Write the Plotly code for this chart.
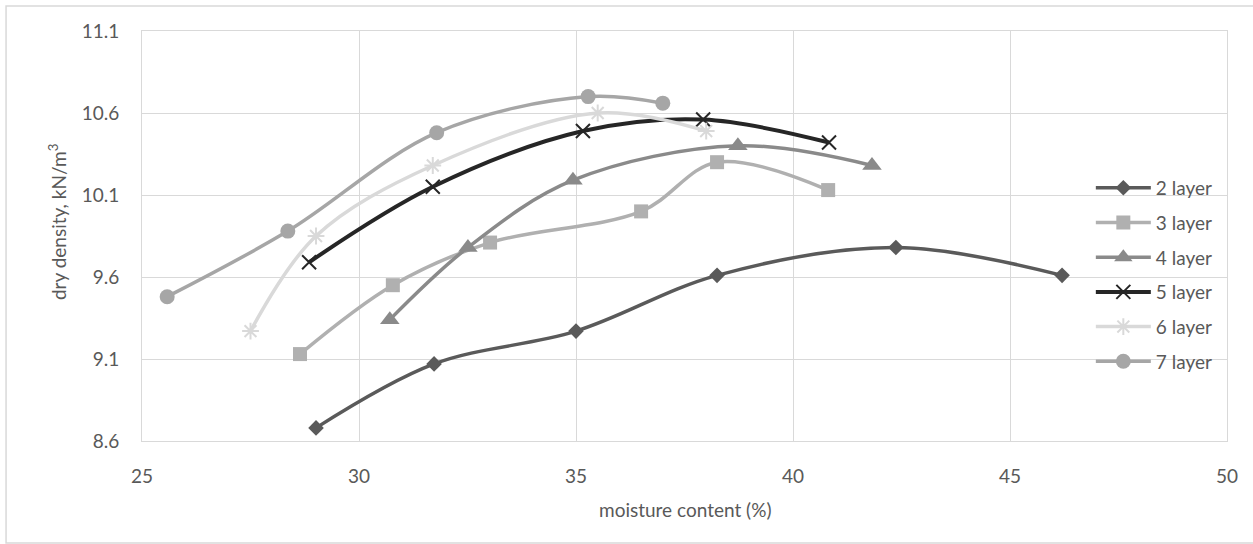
import plotly.graph_objects as go

# ---- data ----
x2 = [29.01, 31.73, 35.00, 38.25, 42.37, 46.20]
y2 = [8.68, 9.07, 9.27, 9.61, 9.78, 9.61]

x3 = [28.64, 30.78, 33.02, 36.50, 38.25, 40.81]
y3 = [9.13, 9.55, 9.81, 10.00, 10.30, 10.13]

x4 = [30.71, 32.51, 34.93, 38.73, 41.82]
y4 = [9.34, 9.78, 10.19, 10.40, 10.28]

x5 = [28.85, 31.70, 35.16, 37.93, 40.83]
y5 = [9.69, 10.15, 10.49, 10.56, 10.42]

x6 = [27.50, 29.01, 31.70, 35.50, 38.00]
y6 = [9.27, 9.85, 10.28, 10.60, 10.49]

x7 = [25.58, 28.36, 31.79, 35.28, 37.00]
y7 = [9.48, 9.88, 10.48, 10.70, 10.66]

series_names = ["2 layer", "3 layer", "4 layer", "5 layer", "6 layer", "7 layer"]
x_ticks = [25, 30, 35, 40, 45, 50]
y_ticks = [8.6, 9.1, 9.6, 10.1, 10.6, 11.1]

FONT = "Lato"
TXT = "#595959"
GRID = "#D9D9D9"

styles = [
    dict(color="#5A5A5A", symbol="diamond", size=12, mline=0),
    dict(color="#B0B0B0", symbol="square", size=14, mline=0),
    dict(color="#8A8A8A", symbol="triangle-up", size=17, mline=0),
    dict(color="#262626", symbol="x-thin", size=14, mline=2),
    dict(color="#D9D9D9", symbol="asterisk-open", size=14, mline=2),
    dict(color="#A6A6A6", symbol="circle", size=15, mline=0),
]

data = [(x2, y2), (x3, y3), (x4, y4), (x5, y5), (x6, y6), (x7, y7)]

fig = go.Figure()
for i, ((xs, ys), name, st) in enumerate(zip(data, series_names, styles)):
    fig.add_trace(go.Scatter(
        x=xs, y=ys, name=name, mode="lines+markers",
        legendgroup=f"g{i}",
        line=dict(color=st["color"], width=3.5 if i != 3 else 4, shape="spline", smoothing=1),
        marker=dict(symbol=st["symbol"], size=st["size"], color=st["color"],
                    line=dict(color=st["color"], width=st["mline"])),
    ))

axis_common = dict(
    showgrid=True, gridcolor=GRID, gridwidth=1,
    showline=True, linecolor=GRID, linewidth=1, mirror=True,
    zeroline=False, ticks="",
    tickfont=dict(family=FONT, size=19, color=TXT),
)

fig.update_xaxes(range=[25, 50], tickvals=x_ticks, ticktext=[str(v) for v in x_ticks],
                 ticklabelstandoff=18, **axis_common)
fig.update_yaxes(range=[8.6, 11.1], tickvals=y_ticks, ticktext=[f"{v:.1f}" for v in y_ticks],
                 ticklabelstandoff=18, **axis_common)

fig.update_layout(
    width=1253, height=544,
    margin=dict(l=142, r=26, t=31, b=103),
    paper_bgcolor="white", plot_bgcolor="white",
    font=dict(family=FONT, size=19, color=TXT),
    showlegend=True,
    legend=dict(x=0.8745, y=0.405, xanchor="left", yanchor="middle",
                bgcolor="rgba(0,0,0,0)", itemwidth=55, tracegroupgap=7,
                font=dict(family=FONT, size=19, color=TXT)),
    annotations=[
        dict(text="moisture content (%)", xref="paper", yref="paper",
             x=0.5, y=-0.166, xanchor="center", yanchor="middle", showarrow=False,
             font=dict(family=FONT, size=19, color=TXT)),
        dict(text="dry density, kN/m<sup>3</sup>", xref="paper", yref="paper",
             x=-0.0783, y=0.534, xanchor="center", yanchor="middle", textangle=-90,
             showarrow=False, font=dict(family=FONT, size=19, color=TXT)),
    ],
    shapes=[
        dict(type="rect", xref="paper", yref="paper",
             x0=-0.1253, x1=1.1, y0=-0.2488, y1=1.061,
             line=dict(color=GRID, width=1.5), fillcolor="rgba(0,0,0,0)", layer="below"),
    ],
)

fig.write_html("out.html")
